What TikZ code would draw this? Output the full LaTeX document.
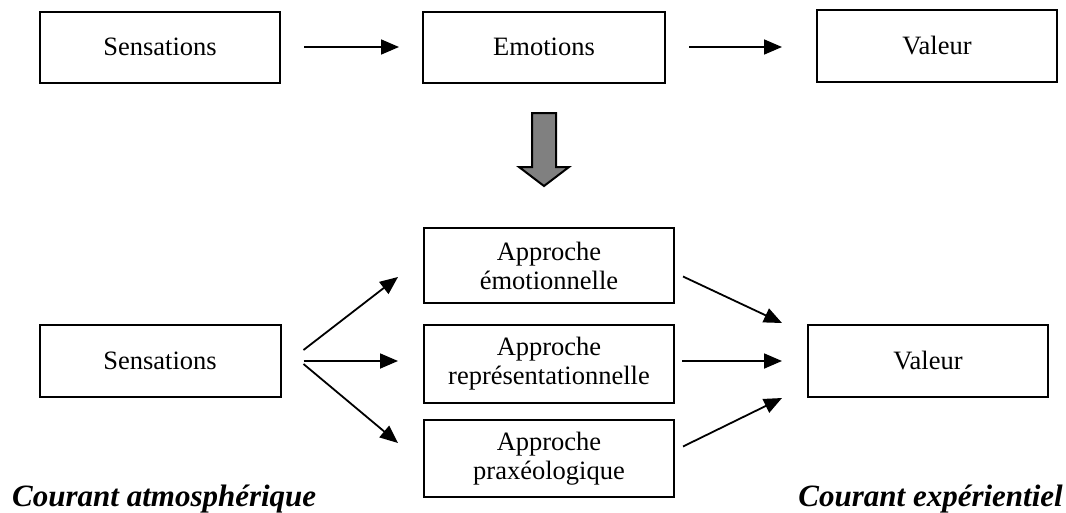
\documentclass[tikz,border=0pt]{standalone}
\usepackage{fontspec}
\setmainfont{Liberation Serif}
\usetikzlibrary{arrows.meta,calc}
\begin{document}
\begin{tikzpicture}[x=1pt,y=-1pt,
  box/.style={draw=black,line width=2pt,rectangle,inner sep=0pt,align=center,
    font=\fontsize{26.5}{29}\selectfont},
  arr/.style={line width=1.8pt,-{Triangle[length=18pt,width=15pt]}},
  lab/.style={inner sep=0pt,font=\fontsize{31}{34}\selectfont\bfseries\itshape}]
\useasboundingbox (0,0) rectangle (1066,512);
% top row
\node[box,minimum width=240pt,minimum height=71pt] (s1) at (160,47) {Sensations};
\node[box,minimum width=242pt,minimum height=71pt] (e1) at (544,47) {Emotions};
\node[box,minimum width=240pt,minimum height=72pt] (v1) at (937,46) {Valeur};
\draw[arr] ($(s1.east)+(23,0)$) -- ($(e1.west)+(-23,0)$);
\draw[arr] ($(e1.east)+(23,0)$) -- ($(v1.west)+(-34,1)$);
% block arrow
\coordinate (ba) at (544,113);
\draw[line width=2pt,fill=black!50,line join=miter]
  ($(ba)+(-12,0)$) -- ($(ba)+(12,0)$) -- ($(ba)+(12,54)$) -- ($(ba)+(25,54)$)
  -- ($(ba)+(0,73)$) -- ($(ba)+(-25,54)$) -- ($(ba)+(-12,54)$) -- cycle;
% bottom row
\node[box,minimum width=241pt,minimum height=72pt] (s2) at (160,361) {Sensations};
\node[box,minimum width=250pt,minimum height=75pt] (a1) at (549,265.5) {Approche\\émotionnelle};
\node[box,minimum width=250pt,minimum height=78pt] (a2) at (549,364) {Approche\\représentationnelle};
\node[box,minimum width=250pt,minimum height=77pt] (a3) at (549,458.5) {Approche\\praxéologique};
\node[box,minimum width=240pt,minimum height=72pt] (v2) at (928,361) {Valeur};
% left arrows
\draw[arr] ($(s2.east)+(22,-11)$) -- ($(a1.west)+(-25,11.5)$);
\draw[arr] ($(s2.east)+(22,0)$) -- ($(a2.west)+(-25,-3)$);
\draw[arr] ($(s2.east)+(22,3)$) -- ($(a3.west)+(-25,-15.5)$);
% right arrows
\draw[arr] ($(a1.east)+(8,11)$) -- ($(v2.west)+(-25,-38)$);
\draw[arr] ($(a2.east)+(7,-3)$) -- ($(v2.west)+(-25,0)$);
\draw[arr] ($(a3.east)+(8,-12)$) -- ($(v2.west)+(-25,37)$);
% labels
\node[lab,anchor=base west] (ca) at (12,506) {Courant atmosphérique};
\node[lab,anchor=base east] (ce) at (1063,506) {Courant expérientiel};
\end{tikzpicture}
\end{document}
